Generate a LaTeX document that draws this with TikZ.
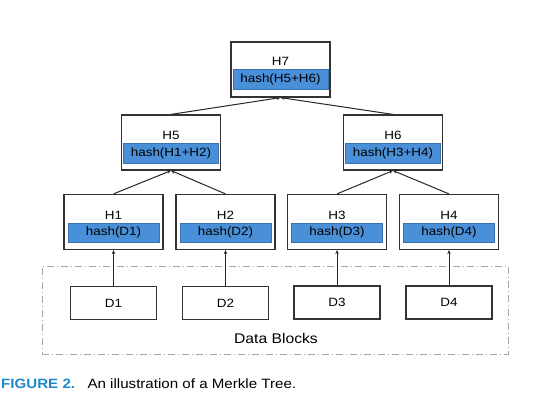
\documentclass[tikz,border=0pt]{standalone}
\usepackage{fontspec}
\setmainfont{Liberation Sans}[FakeStretch=1.12]
\usetikzlibrary{arrows.meta,positioning}

\definecolor{hashblue}{RGB}{74,144,217}
\definecolor{figblue}{RGB}{30,136,204}

\begin{document}
\begin{tikzpicture}[
  x=1pt, y=-1pt,
  >={Stealth[length=4pt,width=3.5pt]},
  hnode/.style={draw=black!80, line width=1.2pt, minimum width=99pt,
              minimum height=55pt, inner sep=0pt},
  htitle/.style={font=\fontsize{12}{14}\selectfont, inner sep=0pt},
  hband/.style={fill=hashblue, draw=hashblue!80!black, line width=0.5pt,
              minimum width=95pt, minimum height=20pt, inner sep=0pt,
              font=\fontsize{12}{14}\selectfont},
  leafband/.style={hband, minimum width=91pt, minimum height=19pt},
  dnode/.style={draw=black!80, line width=1.2pt, minimum width=86pt,
              minimum height=33pt, inner sep=0pt,
              font=\fontsize{12}{14}\selectfont},
  arr/.style={->, draw=black!85, line width=1pt},
]
\useasboundingbox (0,0) rectangle (534,403);

% data blocks frame
\node[draw=black!35, line width=0.8pt,
      dash pattern=on 7pt off 3pt on 1pt off 3pt,
      minimum width=466pt, minimum height=88pt] (blocks) at (275,310) {};
\node[font=\fontsize{14}{16}\selectfont, inner sep=0pt] (blockslbl) at (276,338) {Data Blocks};

% root
\node[hnode] (h7) at (280.5,69.5) {};
\node[htitle] (h7t) at (280.5,61) {H7};
\node[hband] (h7b) at (280.5,79.5) {hash(H5+H6)};

% middle level
\node[hnode] (h5) at (171,142.5) {};
\node[htitle] (h5t) at (171,135) {H5};
\node[hband] (h5b) at (171,153.5) {hash(H1+H2)};

\node[hnode] (h6) at (393,142.5) {};
\node[htitle] (h6t) at (393,135) {H6};
\node[hband] (h6b) at (393,153.5) {hash(H3+H4)};

% leaves
\node[hnode] (h1) at (113.5,222) {};
\node[htitle] (h1t) at (113.5,215) {H1};
\node[leafband] (h1b) at (113.5,232.5) {hash(D1)};

\node[hnode] (h2) at (225.5,222) {};
\node[htitle] (h2t) at (225.5,215) {H2};
\node[leafband] (h2b) at (225.5,232.5) {hash(D2)};

\node[hnode] (h3) at (337,222) {};
\node[htitle] (h3t) at (337,215) {H3};
\node[leafband] (h3b) at (337,232.5) {hash(D3)};

\node[hnode] (h4) at (449,222) {};
\node[htitle] (h4t) at (449,215) {H4};
\node[leafband] (h4b) at (449,232.5) {hash(D4)};

% data
\node[dnode] (d1) at (113.5,303) {D1};
\node[dnode] (d2) at (225.5,303) {D2};
\node[dnode] (d3) at (337,302.5) {D3};
\node[dnode] (d4) at (449,302.5) {D4};

\draw[arr] (h5.north) -- (h7.south);
\draw[arr] (h6.north) -- (h7.south);
\draw[arr] (h1.north) -- (h5.south);
\draw[arr] (h2.north) -- (h5.south);
\draw[arr] (h3.north) -- (h6.south);
\draw[arr] (h4.north) -- (h6.south);
\draw[arr] (d1) -- (h1);
\draw[arr] (d2) -- (h2);
\draw[arr] (d3) -- (h3);
\draw[arr] (d4) -- (h4);

% caption
\node[anchor=west, inner sep=0pt, text=figblue,
      font=\fontsize{13.5}{16}\selectfont\bfseries] (figno) at (1,384) {FIGURE 2.};
\node[right=12pt of figno, inner sep=0pt,
      font=\fontsize{13.5}{16}\selectfont] (caption) {An illustration of a Merkle Tree.};

\end{tikzpicture}
\end{document}
